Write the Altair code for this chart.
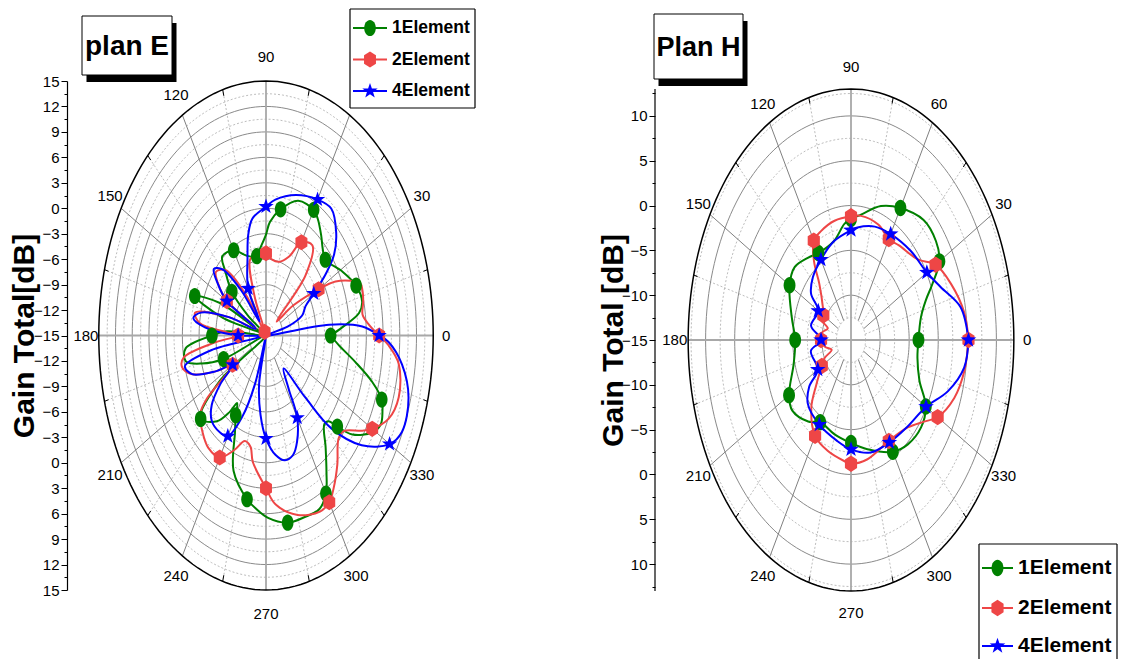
import altair as alt
import pandas as pd

SERIES = ["1Element", "2Element", "4Element"]
COLORS = ["#008000", "#EE4646", "#0000FF"]
SHAPES = [
    "M0,-1A0.72,1,0,1,1,0,1A0.72,1,0,1,1,0,-1Z",
    "M0,-1L0.74,-0.52L0.74,0.52L0,1L-0.74,0.52L-0.74,-0.52Z",
    "M0,-1L0.235,-0.324L0.951,-0.309L0.38,0.124L0.588,0.809L0,0.4L-0.588,0.809L-0.38,0.124L-0.951,-0.309L-0.235,-0.324Z",
]

# ---------------- plan E (angle in degrees, gain in dB) ----------------
E_ANG_1 = [0, 4, 9, 13, 20, 29, 40, 45, 50, 56, 60, 70, 80, 87, 90, 96, 100, 110, 120, 130, 134, 140, 144, 148, 155,
           160, 165, 170, 176, 180, 186, 192, 196, 200, 206, 213, 220, 229, 234, 237, 240, 244, 250, 260, 265, 271,
           280, 288, 295, 300, 304, 309, 315, 318, 320, 323, 329, 333, 337, 340, 344, 349, 355, 360]
E_DB_1 = [-3.4, -1.3, 1.9, 2.7, 2.2, 0.6, -1.1, -0.6, 0.4, 1.6, 2.1, 1.9, 0.1, -1.6, -3.1, -4.7, -5.5, -5.0, -3.4, -2.8,
          -4.5, -7.0, -11, -15, -6, -1.4, -7, -15, -8, -5.3, -0.5, -0.3, -3, -6.9, -15, -5, 0.3, -1.6, -3.8, -5.5,
          -4.15, -2.3, 2.0, 4.6, 5.5, 6.5, 7.4, 7.5, 7.6, 6.5, 4.4, 2.0, -0.2, 0.1, 1.7, 4.4, 7.2, 8.1, 7.7, 7.1, 4.8,
          1.3, -1.9, -3.4]
E_ANG_2 = [0, 4, 8, 13, 17, 20, 23, 27, 30, 36, 41, 45, 52, 60, 66, 75, 83, 90, 97, 107, 114, 120, 127, 133, 140, 146,
           150, 157, 162, 168, 173, 177, 180, 185, 190, 194, 199, 205, 210, 215, 218, 225, 232, 240, 247, 253, 258,
           261, 270, 275, 285, 295, 300, 304, 310, 317, 321, 327, 330, 336, 343, 352, 357, 360]
E_DB_2 = [5.3, 3.5, 2.5, 2.9, 3.1, 3.0, 1.5, -1.0, -4.1, -9, -12.5, -5, -1.5, -2.3, -4.8, -6, -6, -5.3, -5.5, -5.5,
          -10, -14.5, -9, -4.5, -3.3, -5, -6.9, -13, -8, -2, -3, -8, -10, -6, 0, 0.5, -1, -5, -8.1, -2.1, 0, 1.1, 1.8,
          1.6, -0.3, -2.0, -1.6, 0.1, 3.0, 5.0, 6.9, 7.9, 7.7, 6.7, 4.9, 2.8, 2.9, 5.6, 7.0, 9.1, 9.9, 9.05, 7.0, 5.3]
E_ANG_4 = [0, 3.5, 6.4, 9, 15, 20, 26, 30, 34, 38, 44, 52, 60, 72, 84, 90, 100, 105, 110, 120, 125, 130, 135, 140, 145,
           150, 157, 162, 167, 171, 175, 180, 185, 190, 194, 199, 205, 210, 215, 220, 226, 234, 240, 246, 251, 255,
           258, 264, 270, 277, 283, 289, 294, 300, 303, 309, 314, 317, 323, 330, 335, 344, 352, 358, 360]
E_DB_4 = [5.3, 2.3, -3.6, -15, -11, -8.1, -7.1, -5.1, -2.1, 0.5, 2.5, 4.0, 3.5, 2.4, 1.1, 0.2, -1.0, -2.7, -5.3, -8.6,
          -13, -8, -4, -2.8, -4.5, -6.9, -13, -8, -3, -1.8, -4, -10, -14, -5, 0, -1, -5, -8.1, -5, -2.3, -1, -0.9,
          -1.3, -4.5, -9, -15, -9, -5.6, -2.85, -0.8, 0.1, -0.1, -1.3, -3.8, -7.6, -10, -4.8, 1.1, 6.5, 10.6, 11.9,
          11.6, 9.65, 7.0, 5.3]
E_MARK_STEP = [20, 30, 30]

# ---------------- Plan H ----------------
H_ANG_1 = [0, 12, 19, 24, 30, 37, 47, 60, 71, 83, 90, 95, 105, 120, 129, 140, 150, 166, 180, 195, 210, 218, 231, 240,
           255, 270, 283, 300, 310, 321, 330, 339, 350, 360]
H_DB_1 = [-3.4, -2.7, -1.4, 0.3, 2.55, 3.3, 3.3, 2.0, 0.8, -0.9, -1.5, -2.0, -3.6, -3.8, -3.2, -2.35, -2.8, -4.5, -5.4,
          -4.8, -2.7, -2.2, -3.3, -4.4, -4.1, -3.5, -2.5, -0.6, 0.2, 0.5, -0.15, -2.4, -3.4, -3.4]
H_ANG_2 = [0, 9, 20, 30, 38, 52, 60, 70, 83, 90, 102, 113, 120, 126, 131, 143, 150, 156, 162, 170, 180, 190, 198, 204,
           210, 220, 228, 240, 252, 265, 270, 282, 300, 315, 324, 330, 340, 350, 360]
H_DB_2 = [5.2, 4.7, 3.3, 1.8, -0.4, -1.6, -2.0, -1.3, -1.05, -1.2, -1.4, -1.8, -2.2, -4.2, -6.7, -8.95, -9.5, -9.3,
          -10.8, -10, -9.85, -10.5, -11.5, -10, -9.2, -7.2, -4.8, -2.65, -2.0, -1.45, -1.2, -1.4, -2.0, -1.2, 0.5,
          2.2, 3.9, 4.8, 5.2]
H_ANG_4 = [0, 11, 21, 30, 44, 60, 72, 85, 90, 105, 120, 133, 143, 150, 167, 180, 190, 210, 216, 224, 240, 258, 270,
           285, 300, 315, 330, 341, 351, 360]
H_DB_4 = [5.2, 4.2, 1.5, 0.06, -0.7, -1.35, -1.7, -2.4, -2.75, -3.6, -4.65, -5.4, -6.4, -8.5, -7.95, -9.85, -8.0,
          -8.4, -6.1, -4.7, -4.1, -3.5, -2.8, -2.0, -1.8, -1.3, -0.1, 2.6, 4.7, 5.2]
H_MARK_STEP = [30, 30, 30]

ANGLE_LABELS = [0, 30, 60, 90, 120, 150, 180, 210, 240, 270, 300, 330]

FONT = "Liberation Sans, Arial, sans-serif"


def series_df(angs, dbs, steps):
    rows = []
    for s, a_list, g_list, st in zip(SERIES, angs, dbs, steps):
        for i, (a, g) in enumerate(zip(a_list, g_list)):
            rows.append({"series": s, "idx": i, "ang": a, "gain": g, "step": st})
    return pd.DataFrame(rows)


def panel(df, c):
    R = c["R"]
    xs = alt.Scale(domain=[-c["xh"], c["xh"]], nice=False, zero=False)
    ys = alt.Scale(domain=[-R, c["ytop"]], nice=False, zero=False)
    mj, mn = c["major"], c["minor"]
    vals = [-c["tick_top"] + mn * i for i in range(int(round(2 * c["tick_top"] / mn)) + 1)]
    yaxis = alt.Axis(
        values=vals,
        labelExpr=f"abs(datum.value) % {mj} == 0 ? format(abs(datum.value) - 15, 'd') : ''",
        tickSize={"condition": {"test": f"abs(datum.value) % {mj} == 0", "value": 6}, "value": 3},
        domain=c["axis_domain"], domainColor="black", tickColor="black", labelColor="black", domainWidth=1.2,
        labelFont=FONT, labelFontSize=c["lab_fs"], labelPadding=2, labelFlush=False, labelOverlap=False,
        grid=False, title=c["ytitle"], titleFont=FONT, titleFontSize=c["yt_fs"], titleFontWeight="bold",
        titleAngle=270, titleX=c["titleX"], titleY=c["titleY"], titleAlign="center", titleBaseline="middle",
        titleColor="black",
    )

    def X(f):
        return alt.X(f, type="quantitative", scale=xs, axis=None)

    def Y(f):
        return alt.Y(f, type="quantitative", scale=ys, axis=yaxis)

    # rings
    rows = []
    k = 1
    while k * mn < R - 1e-9:
        r = k * mn
        kind = "major" if abs(r / mj - round(r / mj)) < 1e-9 else "minor"
        for a in range(0, 362, 2):
            rows.append({"ring": r, "a": a, "kind": kind})
        k += 1
    for a in range(0, 362, 2):
        rows.append({"ring": R, "a": a, "kind": "outer"})
    rings = pd.DataFrame(rows)
    ring_base = alt.Chart(rings).transform_calculate(
        x="datum.ring*cos(datum.a*PI/180)", y="datum.ring*sin(datum.a*PI/180)")
    ring_minor = ring_base.transform_filter("datum.kind=='minor'").mark_line(
        color="#BDBDBD", strokeWidth=1, strokeDash=[2, 2]).encode(
        x=X("x"), y=Y("y"), detail="ring:N", order="a:Q")
    ring_major = ring_base.transform_filter("datum.kind=='major'").mark_line(
        color="#8A8A8A", strokeWidth=1).encode(x=X("x"), y=Y("y"), detail="ring:N", order="a:Q")
    ring_outer = ring_base.transform_filter("datum.kind=='outer'").mark_line(
        color="black", strokeWidth=1.5).encode(x=X("x"), y=Y("y"), detail="ring:N", order="a:Q")

    # spokes
    sp = []
    for a in range(0, 360, 15):
        if a % 90 == 0:
            sp.append({"a": a, "r0": 0, "r1": R, "kind": "axis"})
        elif a % 30 == 0:
            sp.append({"a": a, "r0": c["r_in"], "r1": R, "kind": "major"})
        else:
            sp.append({"a": a, "r0": c["r_in"], "r1": R, "kind": "minor"})
            sp.append({"a": a, "r0": R * 0.975, "r1": R, "kind": "tick"})
    spk = alt.Chart(pd.DataFrame(sp)).transform_calculate(
        x0="datum.r0*cos(datum.a*PI/180)", y0="datum.r0*sin(datum.a*PI/180)",
        x1="datum.r1*cos(datum.a*PI/180)", y1="datum.r1*sin(datum.a*PI/180)")

    def spoke(kind, **kw):
        return spk.transform_filter(f"datum.kind=='{kind}'").mark_rule(**kw).encode(
            x=X("x0"), y=Y("y0"), x2=alt.X2("x1"), y2=alt.Y2("y1"))

    sp_minor = spoke("minor", color="#BDBDBD", strokeWidth=1, strokeDash=[2, 2])
    sp_major = spoke("major", color="#808080", strokeWidth=1)
    sp_axis = spoke("axis", color="#A8A8A8", strokeWidth=1.8)
    sp_tick = spoke("tick", color="black", strokeWidth=1)

    shown = [a for a in ANGLE_LABELS if a not in c["hide_labels"]]
    labs = alt.Chart(pd.DataFrame({"a": shown, "t": [str(v) for v in shown]})).transform_calculate(
        x=f"{c['lrx']}*cos(datum.a*PI/180)", y=f"{c['lry']}*sin(datum.a*PI/180)").mark_text(
        font=FONT, fontSize=c["lab_fs"], color="black", align="center", baseline="middle").encode(
        x=X("x"), y=Y("y"), text="t:N")

    cscale = alt.Scale(domain=SERIES, range=COLORS)
    base = alt.Chart(df).transform_calculate(
        rr="max(datum.gain + 15, 0)").transform_calculate(
        x="datum.rr*cos(datum.ang*PI/180)", y="datum.rr*sin(datum.ang*PI/180)")
    lines = base.mark_line(interpolate="catmull-rom", strokeWidth=2).encode(
        x=X("x"), y=Y("y"), color=alt.Color("series:N", scale=cscale, legend=None),
        detail="series:N", order="idx:Q")
    pts = base.transform_filter("datum.ang % datum.step == 0 && datum.ang < 360").mark_point(
        filled=True, opacity=1, size=c["msize"]).encode(
        x=X("x"), y=Y("y"), color=alt.Color("series:N", scale=cscale, legend=None),
        shape=alt.Shape("series:N", scale=alt.Scale(domain=SERIES, range=SHAPES), legend=None))

    layers = [ring_minor, sp_minor, ring_major, sp_major, sp_axis, ring_outer, sp_tick, labs, lines, pts]

    if not c["axis_domain"]:
        layers.append(alt.Chart(alt.Data(values=[{"t": "axis"}])).mark_rule(color="black", strokeWidth=1.2).encode(
            x=alt.value(0), y=alt.value(c["axis_line"][0]), y2=alt.value(c["axis_line"][1])))

    # title box
    tb = c["tbox"]
    td = alt.Data(values=[{"t": c["title"]}])
    layers.append(alt.Chart(td).mark_rect(color="black").encode(
        x=alt.value(tb[0] + 4.5), x2=alt.value(tb[2] + 4.5), y=alt.value(tb[1] + 7), y2=alt.value(tb[3] + 7)))
    layers.append(alt.Chart(td).mark_rect(fill="white", stroke="black", strokeWidth=1).encode(
        x=alt.value(tb[0]), x2=alt.value(tb[2]), y=alt.value(tb[1]), y2=alt.value(tb[3])))
    layers.append(alt.Chart(td).mark_text(font=FONT, fontWeight="bold", fontSize=c["title_fs"], color="black",
                                          align="center", baseline="middle").encode(
        x=alt.value((tb[0] + tb[2]) / 2), y=alt.value((tb[1] + tb[3]) / 2 + 1), text="t:N"))

    # legend
    lb = c["lbox"]
    ld = alt.Data(values=[{"t": "legend"}])
    layers.append(alt.Chart(ld).mark_rect(fill="white", strokeOpacity=0).encode(
        x=alt.value(lb[0]), x2=alt.value(lb[2]), y=alt.value(lb[1]), y2=alt.value(lb[3])))
    layers.append(alt.Chart(ld).mark_rule(color="black", strokeWidth=1.2).encode(
        x=alt.value(lb[0]), x2=alt.value(lb[2]), y=alt.value(lb[1])))
    layers.append(alt.Chart(ld).mark_rule(color="black", strokeWidth=1.2).encode(
        x=alt.value(lb[0]), y=alt.value(lb[1]), y2=alt.value(lb[3])))
    layers.append(alt.Chart(ld).mark_rule(color="black", strokeWidth=1.2).encode(
        x=alt.value(lb[2]), y=alt.value(lb[1]), y2=alt.value(lb[3])))
    if c["lbox_bottom"]:
        layers.append(alt.Chart(ld).mark_rule(color="black", strokeWidth=1.2).encode(
            x=alt.value(lb[0]), x2=alt.value(lb[2]), y=alt.value(lb[3])))
    for i, s in enumerate(SERIES):
        d = alt.Data(values=[{"s": s}])
        yy = c["ly"][i]
        layers.append(alt.Chart(d).mark_rule(color=COLORS[i], strokeWidth=2).encode(
            x=alt.value(c["lx"][0]), x2=alt.value(c["lx"][1]), y=alt.value(yy)))
        layers.append(alt.Chart(d).mark_point(filled=True, opacity=1, shape=SHAPES[i], size=c["msize"],
                                              color=COLORS[i]).encode(
            x=alt.value((c["lx"][0] + c["lx"][1]) / 2), y=alt.value(yy)))
        layers.append(alt.Chart(d).mark_text(font=FONT, fontWeight="bold", fontSize=c["leg_fs"], color="black",
                                             align="left", baseline="middle").encode(
            x=alt.value(c["lx"][2]), y=alt.value(yy), text="s:N"))

    an = c["anchor"]
    layers.append(alt.Chart(alt.Data(values=[{"t": "a"}])).mark_rect(opacity=0).encode(
        x=alt.value(an[0]), x2=alt.value(an[0] + 1), y=alt.value(an[1]), y2=alt.value(an[1] + 1)))

    return alt.layer(*layers).properties(width=c["width"], height=c["height"])


dfE = series_df([E_ANG_1, E_ANG_2, E_ANG_4], [E_DB_1, E_DB_2, E_DB_4], E_MARK_STEP)
dfH = series_df([H_ANG_1, H_ANG_2, H_ANG_4], [H_DB_1, H_DB_2, H_DB_4], H_MARK_STEP)

# left panel: plot origin at page (67, 80)
cfgE = dict(R=30, ytop=30, xh=35.7, width=398, height=509, major=3, minor=1.5, tick_top=30, r_in=3,
            axis_domain=True, axis_line=None,
            lrx=32.3, lry=32.8, lab_fs=15, hide_labels=[60],
            ytitle="Gain Total[dB]", yt_fs=30, titleX=-43, titleY=254.5, msize=260,
            title="plan E", tbox=(15, -65, 105, -6), title_fs=28,
            lbox=(283, -72, 408, 27), lbox_bottom=True, lx=(286, 320, 325), ly=(-53, -21.5, 10), leg_fs=17.5,
            anchor=(-59, -72))
# right panel: plot origin at page (654, 80), circle centre at page y 339
cfgH = dict(R=28, ytop=28.893, xh=33.7, width=392, height=510, major=5, minor=2.5, tick_top=27.5, r_in=2.5,
            axis_domain=False, axis_line=(8, 510),
            lrx=30.3, lry=30.4, lab_fs=15, hide_labels=[],
            ytitle="Gain Total [dB]", yt_fs=30, titleX=-42, titleY=259, msize=270,
            title="Plan H", tbox=(-1, -67, 88, -2), title_fs=27,
            lbox=(324, 463, 462, 578), lbox_bottom=False, lx=(327, 358, 363), ly=(487, 527, 565), leg_fs=21,
            anchor=(-179, -72))

chart = alt.hconcat(panel(dfE, cfgE), panel(dfH, cfgH), spacing=0).properties(
    padding=0).configure_view(stroke=None)

chart.save("out.html", embed_options={"renderer": "svg", "actions": False})
